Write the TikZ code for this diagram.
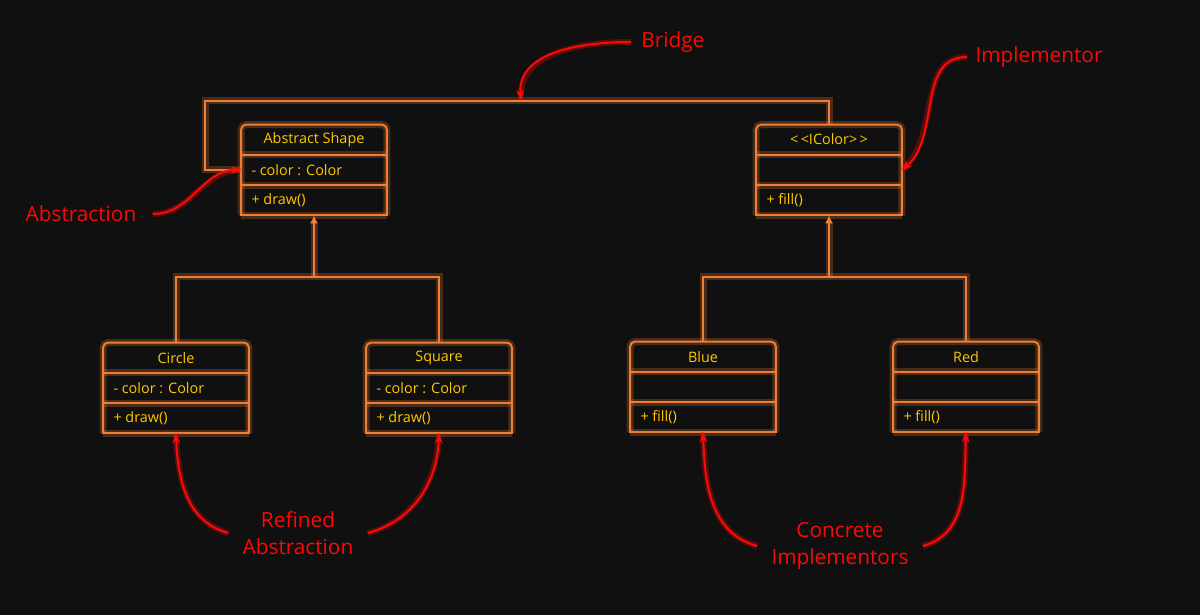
\documentclass[tikz,border=0pt]{standalone}
\usepackage{fontspec}
\setmainfont{Open Sans}
\usetikzlibrary{arrows.meta,positioning}
\definecolor{bgdark}{RGB}{16,16,16}
\definecolor{lineorange}{RGB}{240,125,52}
\definecolor{textgold}{RGB}{255,200,0}
\definecolor{notered}{RGB}{255,8,8}
\tikzset{ClassBox/.style={rectangle,minimum width=72.5pt,minimum height=45pt,inner sep=0pt}}
\tikzset{ClassLine/.style={draw=lineorange,line width=1pt,preaction={draw=lineorange,line width=3.5pt,opacity=.25}}}
\tikzset{ClassText/.style={text=textgold,font=\fontsize{7.2}{8.6}\selectfont,inner sep=1pt}}
\tikzset{NoteText/.style={text=notered,font=\fontsize{10.4}{13.5}\selectfont,align=center,inner sep=7pt}}
\tikzset{NoteArrow/.style={draw=notered,line width=1pt,-{Stealth[length=5pt,width=4pt]},preaction={draw=notered,line width=3pt,opacity=.3,arrows=-}}}
% one class box: name, position, title, attribute, method
\newcommand{\umlclass}[5]{%
  \node (#1) at (#2) [ClassBox] {};
  \draw [ClassLine,rounded corners=2.5pt] (#1.south west) -- (#1.north west) -- (#1.north east) -- (#1.south east);
  \draw [ClassLine,line cap=rect] (#1.south west) -- (#1.south east);
  \draw [ClassLine] ([yshift=-15pt]#1.north west) -- ([yshift=-15pt]#1.north east);
  \draw [ClassLine] ([yshift=15pt]#1.south west) -- ([yshift=15pt]#1.south east);
  \node (#1-title) at ([yshift=-7.5pt]#1.north) [ClassText] {#3};
  \node (#1-attr) at ([xshift=4pt]#1.west) [ClassText,anchor=west] {#4};
  \node (#1-meth) at ([xshift=4pt,yshift=-15pt]#1.west) [ClassText,anchor=west] {#5};
}

\begin{document}
\begin{tikzpicture}[x=0.5pt,y=-0.5pt]
\fill [bgdark] (0,0) rectangle (1200,615);
% classes
\umlclass{shape}{314,170}{Abstract Shape}{- color : Color}{+ draw()}
\umlclass{icolor}{829,170}{<\,<IColor>\,>}{}{+ fill()}
\umlclass{circle}{176,388}{Circle}{- color : Color}{+ draw()}
\umlclass{square}{439,388}{Square}{- color : Color}{+ draw()}
\umlclass{blue}{703,387}{Blue}{}{+ fill()}
\umlclass{red}{966,387}{Red}{}{+ fill()}
% bridge between the two sides
\draw [ClassLine] (shape.west) -- ++(-36,0) -- ++(0,-69) -| (icolor.north);
\coordinate (bridgehit) at (521,100);
% inheritance
\coordinate (shapefork) at (314,277);
\coordinate (colorfork) at (829,277);
\draw [ClassLine] (circle.north) -- ++(0,-66) -| (square.north);
\draw [ClassLine,-{Latex[length=4pt,width=4pt]}] (shapefork) -- (shape.south);
\draw [ClassLine] (blue.north) -- ++(0,-65) -| (red.north);
\draw [ClassLine,-{Latex[length=4pt,width=4pt]}] (colorfork) -- (icolor.south);
% notes
\node (bridge) at (673,42) [NoteText,inner sep=5pt] {Bridge};
\node (implementor) at (1039,57) [NoteText,inner sep=4pt] {Implementor};
\node (abstraction) at (81,214) [NoteText,inner sep=8pt] {Abstraction};
\node (refined) at (298,533) [NoteText] {Refined\\Abstraction};
\node (concrete) at (840,546) [NoteText] {Concrete\\Implementors};
\draw [NoteArrow] (bridge.west) to[out=180,in=95] (bridgehit);
\draw [NoteArrow] (implementor.west) to[out=180,in=40] (icolor.east);
\draw [NoteArrow] (abstraction.east) to[out=0,in=180] (shape.west);
\draw [NoteArrow] (refined.west) to[out=165,in=-88] (circle.south);
\draw [NoteArrow] (refined.east) to[out=15,in=-92] (square.south);
\draw [NoteArrow] (concrete.west) to[out=165,in=-88] (blue.south);
\draw [NoteArrow] (concrete.east) to[out=15,in=-92] (red.south);
\end{tikzpicture}
\end{document}
